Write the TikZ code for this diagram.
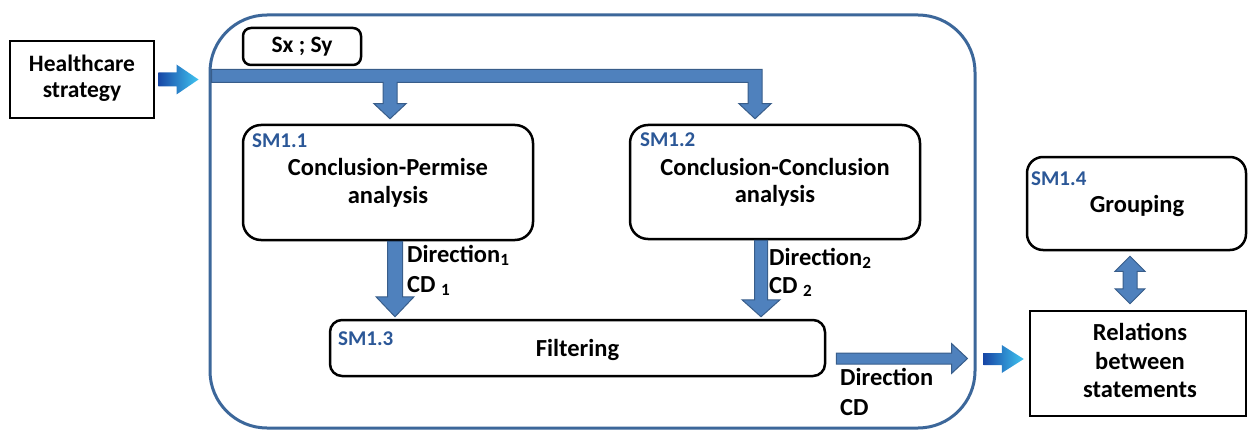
\documentclass[tikz,border=0pt]{standalone}
\usepackage{fontspec}
\setmainfont{Carlito}
\usetikzlibrary{calc}

\definecolor{blkfill}{HTML}{4F81BD}
\definecolor{blkedge}{HTML}{385D8A}
\definecolor{contblue}{HTML}{3C679A}
\definecolor{smblue}{HTML}{2B5797}
\definecolor{gradL}{HTML}{1747A6}
\definecolor{gradR}{HTML}{40C4F0}

% vertical block arrow: style, from, to, half shaft, half head, head length
\newcommand\blkdown[6]{\path[#1] let \p1=(#2), \p2=(#3) in
  (\x1-#4pt,\y1) -- (\x1-#4pt,\y2+#6pt) -- (\x1-#5pt,\y2+#6pt) -- (\x1,\y2)
  -- (\x1+#5pt,\y2+#6pt) -- (\x1+#4pt,\y2+#6pt) -- (\x1+#4pt,\y1) -- cycle;}
% horizontal block arrow: style, from, to, half shaft, half head, head length
\newcommand\blkright[6]{\path[#1] let \p1=(#2), \p2=(#3) in
  (\x1,\y1-#4pt) -- (\x2-#6pt,\y1-#4pt) -- (\x2-#6pt,\y1-#5pt) -- (\x2,\y1)
  -- (\x2-#6pt,\y1+#5pt) -- (\x2-#6pt,\y1+#4pt) -- (\x1,\y1+#4pt) -- cycle;}

\tikzset{
  box/.style={draw=black, line width=2.5pt, inner sep=0pt, fill=white},
  rbox/.style={box, rounded corners=18pt},
  txt/.style={font=\fontsize{24.5}{28}\selectfont\bfseries, inner sep=0pt, anchor=base},
  stxt/.style={txt, font=\fontsize{23.5}{28}\selectfont\bfseries},
  ltxt/.style={txt, anchor=base west},
  smlbl/.style={font=\fontsize{21}{24}\selectfont\bfseries, text=smblue, inner sep=0pt, anchor=base west},
  blk/.style={fill=blkfill, draw=blkedge, line width=1pt, line join=miter},
  grad/.style={left color=gradL, right color=gradR, draw=none},
}

\begin{document}
\begin{tikzpicture}[x=1pt,y=1pt]
\useasboundingbox (0,0) rectangle (1248,432);

% outer module frame
\node[draw=contblue, line width=3pt, rounded corners=57pt, minimum width=765pt,
      minimum height=413pt, inner sep=0pt] (sm) at (592.5,210.5) {};

% boxes
\node[box, minimum width=144pt, minimum height=77pt] (hc) at (82,352.5) {};
\node[box, rounded corners=8pt, minimum width=118pt, minimum height=37pt] (sxsy) at (302,385.5) {};
\node[rbox, minimum width=290pt, minimum height=115pt] (sm11) at (388,249.5) {};
\node[rbox, minimum width=290pt, minimum height=114pt] (sm12) at (775,250) {};
\node[box, rounded corners=12pt, minimum width=495pt, minimum height=56pt] (filt) at (577.5,84) {};
\node[box, rounded corners=16pt, minimum width=219pt, minimum height=93pt] (sm14) at (1136.5,228.5) {};
\node[box, minimum width=216pt, minimum height=105pt] (rel) at (1138,68.5) {};

% texts
\node[stxt] at (82,360) {Healthcare};
\node[stxt] at (82,334) {strategy};
\node[stxt] at (sxsy.center |- 0,379) {Sx ; Sy};

\node[smlbl] at (252,284) {SM1.1};
\node[txt] at (sm11.center |- 0,257) {Conclusion-Permise};
\node[txt] at (sm11.center |- 0,229) {analysis};

\node[smlbl] at (640,285) {SM1.2};
\node[txt] at (sm12.center |- 0,257) {Conclusion-Conclusion};
\node[txt] at (sm12.center |- 0,230) {analysis};

\node[smlbl] at (338,87) {SM1.3};
\node[txt] at (filt.center |- 0,76) {Filtering};

\node[smlbl] at (1031,247) {SM1.4};
\node[txt] at (1137,220) {Grouping};

\node[txt] at (1140,92) {Relations};
\node[txt] at (1140,63) {between};
\node[txt] at (1140,35) {statements};

\node[ltxt] at (407,170) {Direction\textsubscript{1}};
\node[ltxt] at (407,140) {CD \textsubscript{1}};
\node[ltxt] at (769,167) {Direction\textsubscript{2}};
\node[ltxt] at (769,139) {CD \textsubscript{2}};
\node[ltxt] at (840,47) {Direction};
\node[ltxt] at (840,17) {CD};

% connector end points
\coordinate (busL) at ($(sm.north west)+(3,-62.5)$);
\coordinate (t1) at ($(sm11.north)+(2,5)$);
\coordinate (t2) at ($(sm12.north)+(-20,5)$);
\coordinate (d1s) at ($(sm11.south)+(7,0)$);
\coordinate (d1e) at ($(d1s |- filt.north)+(0,2)$);
\coordinate (d2s) at ($(sm12.south)+(-14,0)$);
\coordinate (d2e) at ($(d2s |- filt.north)+(0,2)$);
\coordinate (cs) at ($(filt.east)+(10,-10.5)$);
\coordinate (ce) at ($(sm.east |- filt.east)+(-9,-10.5)$);
\coordinate (g1s) at ($(hc.east)+(3,0)$);
\coordinate (g1e) at ($(sm.west |- hc.east)+(-10,0)$);
\coordinate (g2s) at ($(sm.east |- rel.west)+(7,4.5)$);
\coordinate (g2e) at ($(rel.west)+(-5,4.5)$);
\coordinate (us) at ($(sm14.south)+(-6.5,-5)$);
\coordinate (ue) at ($(rel.north)+(-8,6)$);

% input bus feeding SM1.1 and SM1.2
\path[blk] let \p1=(busL), \p2=(t1), \p3=(t2) in
  (\x1,\y1+6.5pt) -- (\x3+7pt,\y1+6.5pt) -- (\x3+7pt,\y3+15pt) -- (\x3+16pt,\y3+15pt)
  -- (\x3,\y3) -- (\x3-16pt,\y3+15pt) -- (\x3-7pt,\y3+15pt) -- (\x3-7pt,\y1-6.5pt)
  -- (\x2+7pt,\y1-6.5pt) -- (\x2+7pt,\y2+15pt) -- (\x2+16pt,\y2+15pt) -- (\x2,\y2)
  -- (\x2-16pt,\y2+15pt) -- (\x2-7pt,\y2+15pt) -- (\x2-7pt,\y1-6.5pt)
  -- (\x1,\y1-6.5pt) -- cycle;

% flows into filtering and out of the module
\blkdown{blk}{d1s}{d1e}{7.5}{19}{20}
\blkdown{blk}{d2s}{d2e}{6.5}{19}{17}
\blkright{blk}{cs}{ce}{5.5}{15}{16}

% shaded input/output arrows
\blkright{grad}{g1s}{g1e}{7}{15}{22}
\blkright{grad}{g2s}{g2e}{6}{14}{22}

% two-way arrow between grouping and relations
\path[blk] let \p1=(us), \p2=(ue) in
  (\x1,\y1) -- (\x1+15pt,\y1-15pt) -- (\x1+7pt,\y1-15pt) -- (\x1+7pt,\y2+15pt)
  -- (\x1+15pt,\y2+15pt) -- (\x1,\y2) -- (\x1-15pt,\y2+15pt) -- (\x1-7pt,\y2+15pt)
  -- (\x1-7pt,\y1-15pt) -- (\x1-15pt,\y1-15pt) -- cycle;
\end{tikzpicture}
\end{document}
